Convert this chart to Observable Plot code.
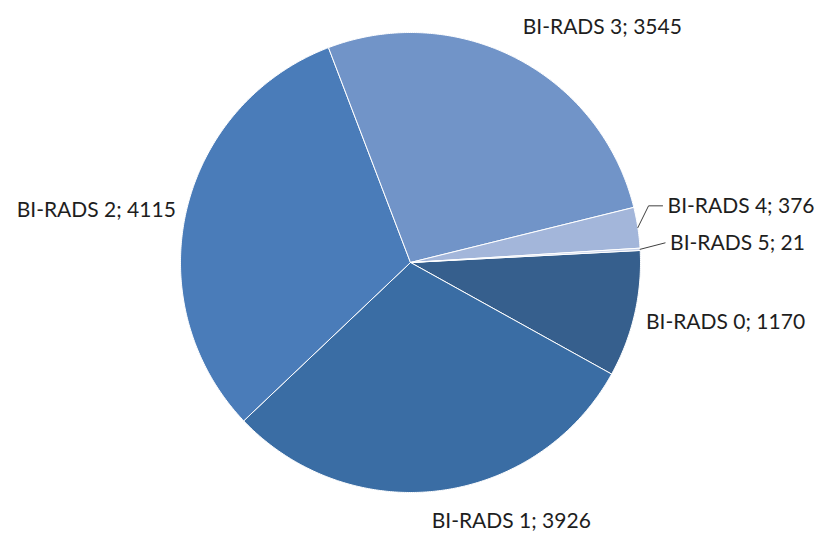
<!DOCTYPE html>
<html><head><meta charset="utf-8">
<script src="https://cdn.jsdelivr.net/npm/d3@7"></script>
<script src="https://cdn.jsdelivr.net/npm/@observablehq/plot@0.6"></script>
<style>body{margin:0;background:#fff;}</style>
</head><body><div id="chart"></div>
<script>
// ---- data ----
const categories = ["BI-RADS 0", "BI-RADS 1", "BI-RADS 2", "BI-RADS 3", "BI-RADS 4", "BI-RADS 5"];
const counts = [1170, 3926, 4115, 3545, 376, 21];
const colors = ["#365F8D", "#3A6DA4", "#4A7CB9", "#7194C8", "#A3B6DA", "#CAD4EA"];

// ---- layout ----
const W = 819, H = 533, R = 230, CX = 410, CY = 262;
const startAngle = 87; // degrees clockwise from 12 o'clock
const labelRadius = 255 / R;
const labelNudge = [[-13, 2], [-11, 6], [14, 4], [-6, -9], [5, -18], [5, -5]]; // px

const total = d3.sum(counts);
const rad = d => d * Math.PI / 180;
let acc = startAngle;
const slices = categories.map((c, i) => {
  const a0 = acc, a1 = acc + counts[i] / total * 360;
  acc = a1;
  return {cat: c, value: counts[i], a0, a1, mid: (a0 + a1) / 2, color: colors[i], i};
});

function polygon(s) {
  const pts = [{x: 0, y: 0}];
  const n = Math.max(2, Math.ceil((s.a1 - s.a0) / 0.5));
  for (let k = 0; k <= n; k++) {
    const a = rad(s.a0 + (s.a1 - s.a0) * k / n);
    pts.push({x: Math.sin(a), y: Math.cos(a)});
  }
  pts.push({x: 0, y: 0});
  return pts;
}

const labels = slices.map(s => {
  const a = rad(s.mid);
  const right = Math.sin(a) >= 0;
  return {
    text: `${s.cat}; ${s.value}`,
    x: labelRadius * Math.sin(a) + labelNudge[s.i][0] / R,
    y: labelRadius * Math.cos(a) - labelNudge[s.i][1] / R,
    anchor: right ? "start" : "end",
    s
  };
});

const leaders = [];
labels.forEach(l => {
  if (l.s.value / total < 0.05) {
    const a = rad(l.s.mid);
    const p0 = {x: Math.sin(a), y: Math.cos(a), g: l.s.cat};
    const end = {x: l.x - 5 / R, y: l.y, g: l.s.cat};
    const pts = [p0];
    if (Math.abs(p0.y - l.y) * R > 10) pts.push({x: l.x - 19 / R, y: l.y, g: l.s.cat});
    pts.push(end);
    leaders.push(...pts);
  }
});

const marks = slices.map(s => Plot.line(polygon(s), {
  x: "x", y: "y", fill: s.color, stroke: "#fff", strokeWidth: 1, curve: "linear"
}));
marks.push(Plot.line(leaders, {x: "x", y: "y", z: "g", stroke: "#404040", strokeWidth: 1}));
for (const anchor of ["start", "end"]) {
  marks.push(Plot.text(labels.filter(l => l.anchor === anchor), {
    x: "x", y: "y", text: "text", textAnchor: anchor,
    fill: "#1e1e1e", fontSize: 21, fontFamily: "Lato, 'Open Sans', sans-serif"
  }));
}

const chart = Plot.plot({
  width: W, height: H,
  margin: 0,
  x: {domain: [-CX / R, (W - CX) / R], range: [0, W], axis: null},
  y: {domain: [-(H - CY) / R, CY / R], range: [H, 0], axis: null},
  style: {background: "#fff"},
  marks
});
document.getElementById("chart").appendChild(chart);
</script>
</body></html>
